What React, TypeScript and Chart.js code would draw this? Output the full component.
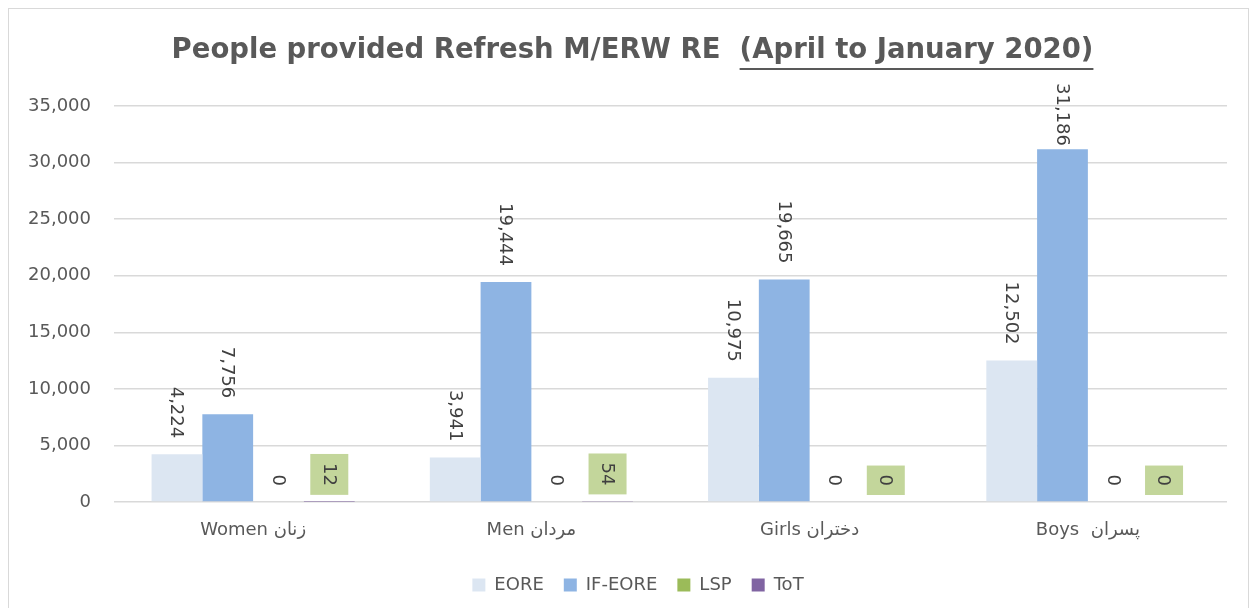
import React, { useEffect, useRef } from "react";
import { Chart, registerables } from "chart.js";

Chart.register(...registerables);

const categories = ["Women زنان", "Men مردان", "Girls دختران", "Boys  پسران"];
const seriesNames = ["EORE", "IF-EORE", "LSP", "ToT"];
const eoreValues = [4224, 3941, 10975, 12502];
const ifEoreValues = [7756, 19444, 19665, 31186];
const lspValues = [0, 0, 0, 0];
const totValues = [12, 54, 0, 0];
const yTicks = [0, 5000, 10000, 15000, 20000, 25000, 30000, 35000];
const titleMain = "People provided Refresh M/ERW RE  ";
const titleUnderlined = "(April to January 2020)";

const colors = ["#DCE6F2", "#8EB4E3", "#9BBB59", "#8064A2"];
const FONT = "'DejaVu Sans', 'Noto Sans', sans-serif";

const fmt = (v: number) => v.toLocaleString("en-US");

const titlePlugin = {
  id: "customTitle",
  afterLayout(chart: any) {
    if (chart.legend) {
      chart.legend.left += 20;
      chart.legend.right += 20;
    }
  },
  afterDraw(chart: any) {
    const ctx = chart.ctx;
    ctx.save();
    ctx.font = "bold 27.5px 'DejaVu Sans', sans-serif";
    ctx.fillStyle = "#595959";
    ctx.textBaseline = "middle";
    ctx.textAlign = "left";
    const w1 = ctx.measureText(titleMain).width;
    const w2 = ctx.measureText(titleUnderlined).width;
    const total = w1 + w2;
    const cx = chart.width / 2 + 4;
    const x0 = cx - total / 2;
    const y = 42;
    ctx.fillText(titleMain, x0, y);
    ctx.fillText(titleUnderlined, x0 + w1, y);
    ctx.strokeStyle = "#595959";
    ctx.lineWidth = 2;
    ctx.beginPath();
    ctx.moveTo(x0 + w1, y + 18);
    ctx.lineTo(x0 + w1 + w2, y + 18);
    ctx.stroke();
    ctx.restore();
  },
};

const labelPlugin = {
  id: "rotLabels",
  afterDatasetsDraw(chart: any) {
    const ctx = chart.ctx;
    ctx.save();
    ctx.font = "18px " + FONT;
    ctx.fillStyle = "#404040";
    chart.data.datasets.forEach((ds: any, di: number) => {
      const meta = chart.getDatasetMeta(di);
      meta.data.forEach((el: any, i: number) => {
        const v = ds.data[i];
        const text = fmt(v);
        const tw = ctx.measureText(text).width;
        const boxed = di === 3;
        let end = el.y - 16;
        if (end - tw < 74) end = 74 + tw;
        if (boxed) {
          const padV = 9;
          const padH = 10;
          ctx.fillStyle = "#C3D69B";
          ctx.fillRect(el.x - 9 - padH, end - tw - padV, 18 + padH * 2, tw + padV * 2);
          ctx.fillStyle = "#404040";
        }
        ctx.save();
        ctx.translate(el.x, end);
        ctx.rotate(Math.PI / 2);
        ctx.textAlign = "right";
        ctx.textBaseline = "middle";
        ctx.fillText(text, 0, 1);
        ctx.restore();
      });
    });
    ctx.restore();
  },
};

export default function App() {
  const ref = useRef<HTMLCanvasElement>(null);
  useEffect(() => {
    if (!ref.current) return;
    const allValues = [eoreValues, ifEoreValues, lspValues, totValues];
    const chart = new Chart(ref.current, {
      type: "bar",
      data: {
        labels: categories,
        datasets: seriesNames.map((name, i) => ({
          label: name,
          data: allValues[i],
          backgroundColor: colors[i],
          borderWidth: 0,
          inflateAmount: 0,
          categoryPercentage: 0.73,
          barPercentage: 1.0,
        })),
      },
      options: {
        animation: false,
        responsive: false,
        layout: { padding: { top: 97, left: 0, right: 21, bottom: 4 } },
        plugins: {
          title: { display: false },
          tooltip: { enabled: false },
          legend: {
            position: "bottom",
            labels: {
              boxWidth: 13,
              boxHeight: 13,
              padding: 20,
              color: "#595959",
              font: { size: 18, family: FONT },
            },
          },
        },
        scales: {
          x: {
            grid: { display: false, drawTicks: false },
            border: { display: false },
            ticks: { color: "#595959", font: { size: 18, family: FONT }, padding: 18, maxRotation: 0 },
            afterFit: (s: any) => {
              s.height = 54;
            },
          },
          y: {
            min: 0,
            max: 35000,
            afterBuildTicks: (s: any) => {
              s.ticks = yTicks.map((v) => ({ value: v }));
            },
            grid: { color: "#D9D9D9", lineWidth: 1.5, drawTicks: false },
            border: { display: false },
            ticks: {
              color: "#595959",
              font: { size: 18, family: FONT },
              padding: 23,
              callback: (v: any) => fmt(Number(v)),
            },
            afterFit: (s: any) => {
              s.width = 105;
            },
          },
        },
      },
      plugins: [titlePlugin, labelPlugin],
    });
    return () => chart.destroy();
  }, []);
  return (
    <div
      style={{
        width: 1239,
        height: 599,
        borderTop: "1px solid #D9D9D9",
        borderLeft: "1px solid #D9D9D9",
        borderRight: "1px solid #D9D9D9",
        background: "#fff",
      }}
    >
      <canvas ref={ref} width={1239} height={599} style={{ display: "block" }} />
    </div>
  );
}
